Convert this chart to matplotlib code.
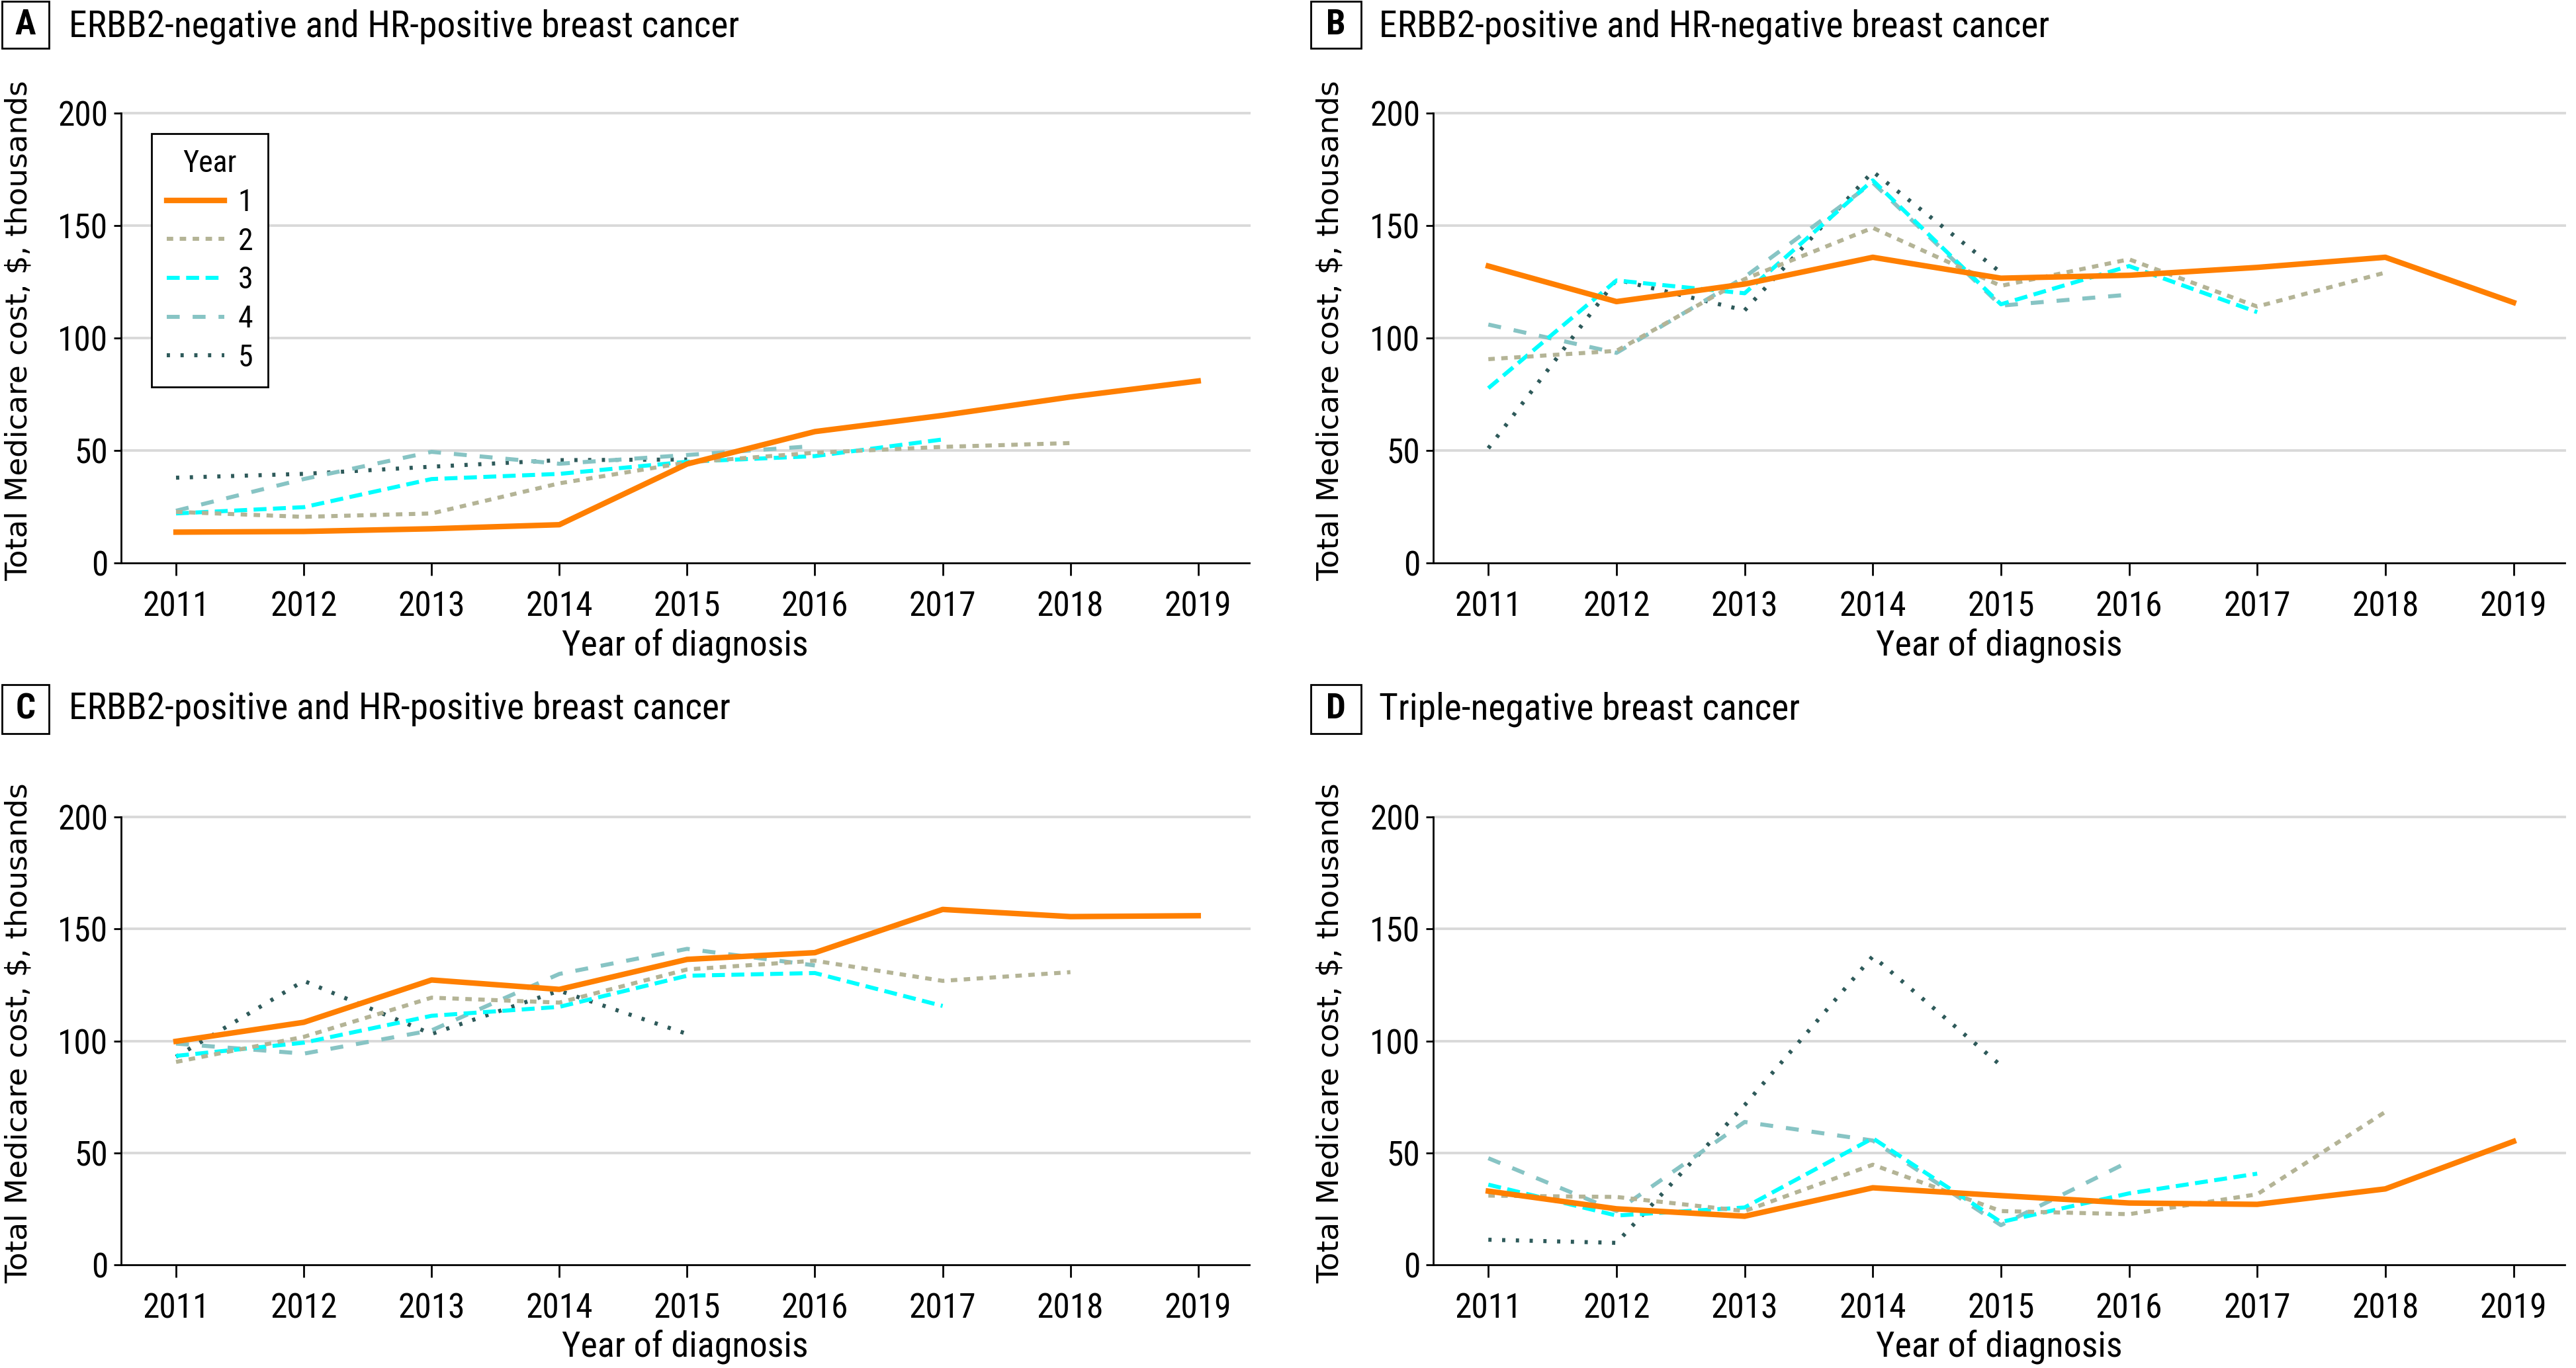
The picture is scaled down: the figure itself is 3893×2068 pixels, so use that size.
import matplotlib
matplotlib.use("Agg")
import matplotlib.pyplot as plt
from matplotlib.patches import Rectangle

years = [2011, 2012, 2013, 2014, 2015, 2016, 2017, 2018, 2019]
series_names = ["1", "2", "3", "4", "5"]

# panel A: ERBB2-negative and HR-positive
a_y1 = [13.7, 14.0, 15.2, 17.0, 44.0, 58.4, 65.6, 73.8, 80.9]
a_y2 = [22.7, 20.5, 22.0, 35.4, 44.7, 49.0, 51.6, 53.3]
a_y3 = [22.0, 24.8, 37.3, 39.6, 45.0, 47.5, 54.9]
a_y4 = [23.2, 37.3, 49.4, 44.1, 48.0, 52.0]
a_y5 = [37.9, 39.6, 42.8, 45.7, 46.0]

# panel B: ERBB2-positive and HR-negative
b_y1 = [132.0, 116.2, 124.0, 135.9, 126.6, 127.9, 131.4, 135.9, 115.8]
b_y2 = [90.6, 94.3, 126.2, 149.0, 123.2, 135.0, 114.0, 129.1]
b_y3 = [77.7, 125.6, 119.9, 170.1, 115.0, 132.0, 111.5]
b_y4 = [106.0, 93.4, 127.1, 169.1, 114.4, 119.3]
b_y5 = [51.0, 126.0, 112.3, 174.0, 129.1]

# panel C: ERBB2-positive and HR-positive
c_y1 = [99.8, 108.3, 127.2, 123.0, 136.4, 139.4, 158.7, 155.5, 155.9]
c_y2 = [90.6, 101.8, 119.3, 117.1, 131.9, 135.8, 126.8, 130.7]
c_y3 = [93.3, 99.2, 111.2, 115.2, 129.1, 130.3, 115.6]
c_y4 = [98.8, 94.3, 104.7, 129.9, 141.1, 133.7]
c_y5 = [92.9, 126.8, 103.1, 122.4, 103.1]

# panel D: triple-negative
d_y1 = [32.9, 25.0, 21.7, 34.4, 30.9, 27.6, 27.0, 33.9, 55.1]
d_y2 = [30.9, 30.3, 24.0, 44.7, 24.0, 22.6, 31.5, 68.3]
d_y3 = [35.8, 22.0, 25.6, 56.5, 19.1, 31.9, 40.7]
d_y4 = [47.6, 24.0, 63.8, 55.5, 17.7, 46.1]
d_y5 = [11.2, 9.8, 71.3, 137.8, 89.0]

colors = ["#FF7F00", "#B4B496", "#00FFFF", "#87C4C4", "#2E5A5A"]
widths = [3.0, 2.2, 2.2, 2.2, 2.2]
dashes = [None, (1.6, 1.6), (3.2, 1.6), (3.2, 3.2), (0.8, 2.6)]

NARROW = ["Roboto Condensed", "DejaVu Sans"]
W, H = 3893, 2068
fig = plt.figure(figsize=(W / 200, H / 200), dpi=200)


def px(x0, y0, x1, y1):
    # pixel box -> figure fraction [l, b, w, h]
    return [x0 / W, 1 - y1 / H, (x1 - x0) / W, (y1 - y0) / H]


def panel(rect, data, letter, title, box, text_x, text_y, legend=False):
    ax = fig.add_axes(rect)
    for i, vals in enumerate(data):
        ln, = ax.plot(years[:len(vals)], vals, color=colors[i], lw=widths[i],
                      label=series_names[i], zorder=5 - i if i else 6)
        if dashes[i]:
            ln.set_dashes(dashes[i])
    ax.set_xlim(2010.57, 2019.4)
    ax.set_ylim(0, 200)
    ax.set_xticks(years)
    ax.set_yticks([0, 50, 100, 150, 200])
    for v in [50, 100, 150, 200]:
        ax.axhline(v, color="#D9D9D9", lw=1.4, zorder=0, clip_on=False)
    for s in ["top", "right"]:
        ax.spines[s].set_visible(False)
    for s in ["left", "bottom"]:
        ax.spines[s].set_linewidth(1.0)
    ax.tick_params(axis="x", length=7, width=1.0, pad=8)
    ax.tick_params(axis="y", length=4, width=1.0, pad=3)
    for lab in ax.get_xticklabels() + ax.get_yticklabels():
        lab.set_family(NARROW)
        lab.set_fontsize(18.5)
    ax.set_xlabel("Year of diagnosis", family=NARROW, fontsize=19.5, va="center")
    ax.xaxis.set_label_coords(0.5, -0.185)
    ax.set_ylabel("Total Medicare cost, $, thousands", family="DejaVu Sans",
                  fontsize=16.3, va="center")
    ax.yaxis.set_label_coords(-0.091, 0.517)

    x0, y0, x1, y1 = box
    fig.patches.append(Rectangle((x0 / W, 1 - y1 / H), (x1 - x0) / W, (y1 - y0) / H,
                                 transform=fig.transFigure, fill=False,
                                 edgecolor="black", lw=1.0))
    fig.text((x0 + x1) / 2 / W, 1 - (y0 + y1) / 2 / H, letter, family=NARROW,
             fontsize=19, fontweight="bold", ha="center", va="center")
    fig.text(text_x / W, 1 - text_y / H, title, family=NARROW, fontsize=20,
             ha="left", va="center")

    if legend:
        leg = ax.legend(title="Year", loc="upper left",
                        bbox_to_anchor=(0.027, 0.954), borderaxespad=0,
                        fancybox=False, edgecolor="black", framealpha=1,
                        handlelength=1.9, handletextpad=0.45,
                        labelspacing=0.32, borderpad=0.5,
                        prop={"family": NARROW, "size": 16.5},
                        title_fontproperties={"family": NARROW, "size": 16.5})
        leg.get_frame().set_linewidth(1.0)
    return ax


panel(px(183, 171, 1888, 851), [a_y1, a_y2, a_y3, a_y4, a_y5], "A",
      "ERBB2-negative and HR-positive breast cancer", (3, 2, 74, 73), 104, 40,
      legend=True)
panel(px(2166, 171, 3876, 851), [b_y1, b_y2, b_y3, b_y4, b_y5], "B",
      "ERBB2-positive and HR-negative breast cancer", (1981, 2, 2057, 73), 2084, 40)
panel(px(183, 1235, 1888, 1912), [c_y1, c_y2, c_y3, c_y4, c_y5], "C",
      "ERBB2-positive and HR-positive breast cancer", (3, 1035, 74, 1109), 104, 1072)
panel(px(2166, 1235, 3876, 1912), [d_y1, d_y2, d_y3, d_y4, d_y5], "D",
      "Triple-negative breast cancer", (1981, 1035, 2057, 1109), 2084, 1072)

fig.savefig("out.png", dpi=200, facecolor="white")
